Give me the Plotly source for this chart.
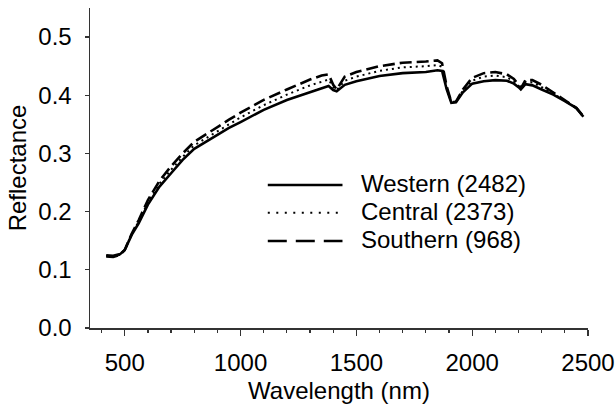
import plotly.graph_objects as go

wavelength = [420, 450, 480, 500, 530, 560, 600, 650, 700, 750, 800, 850, 900, 950, 1000,
              1100, 1200, 1300, 1350, 1380, 1400, 1415, 1450, 1500, 1600, 1700, 1800, 1850,
              1870, 1890, 1910, 1930, 1960, 2000, 2050, 2100, 2150, 2180, 2200, 2210, 2230,
              2260, 2300, 2350, 2400, 2450, 2480]

western = [0.125, 0.124, 0.127, 0.134, 0.160, 0.180, 0.212, 0.243, 0.266, 0.289, 0.308, 0.320,
           0.332, 0.344, 0.354, 0.375, 0.392, 0.406, 0.413, 0.416, 0.409, 0.407, 0.418, 0.424,
           0.433, 0.438, 0.440, 0.443, 0.442, 0.410, 0.387, 0.388, 0.405, 0.420, 0.424, 0.426,
           0.425, 0.420, 0.414, 0.410, 0.419, 0.417, 0.410, 0.401, 0.390, 0.378, 0.363]

central = [0.124, 0.123, 0.126, 0.134, 0.161, 0.183, 0.216, 0.248, 0.272, 0.294, 0.314, 0.326,
           0.338, 0.351, 0.362, 0.383, 0.401, 0.417, 0.424, 0.427, 0.414, 0.409, 0.425, 0.432,
           0.442, 0.448, 0.450, 0.452, 0.449, 0.412, 0.388, 0.389, 0.408, 0.425, 0.432, 0.434,
           0.431, 0.424, 0.416, 0.411, 0.423, 0.422, 0.414, 0.403, 0.391, 0.378, 0.363]

southern = [0.123, 0.122, 0.126, 0.134, 0.162, 0.185, 0.220, 0.253, 0.278, 0.300, 0.320, 0.333,
            0.345, 0.358, 0.370, 0.392, 0.410, 0.427, 0.434, 0.436, 0.418, 0.410, 0.432, 0.440,
            0.450, 0.456, 0.458, 0.460, 0.455, 0.415, 0.388, 0.389, 0.410, 0.430, 0.438, 0.440,
            0.436, 0.428, 0.418, 0.412, 0.426, 0.426, 0.418, 0.405, 0.392, 0.378, 0.364]

names = ["Western (2482)", "Central (2373)", "Southern (968)"]
x_ticks = [500, 1000, 1500, 2000, 2500]
y_ticks = [0, 0.1, 0.2, 0.3, 0.4, 0.5]
y_ticktext = ["0.0", "0.1", "0.2", "0.3", "0.4", "0.5"]

FONT = "Liberation Sans, Arial, sans-serif"
series = [western, central, southern]
styles = [dict(width=2.6, dash="solid"),
          dict(width=2.0, dash="2px,4px"),
          dict(width=2.6, dash="12px,5px")]
legend_dash = ["solid", "2px,6.5px", "19px,9px"]

fig = go.Figure()
for name, vals, st in zip(names, series, styles):
    fig.add_trace(go.Scatter(x=wavelength, y=vals, mode="lines", name=name,
                             line=dict(color="black", **st), showlegend=False))

# manual legend (line samples + labels) placed in paper coordinates
legend_rows_y = [0.447, 0.360, 0.272]
for name, ly, st, ld in zip(names, legend_rows_y, styles, legend_dash):
    fig.add_shape(type="line", xref="paper", yref="paper",
                  x0=0.357, x1=0.507, y0=ly, y1=ly,
                  line=dict(color="black", width=st["width"], dash=ld))
    fig.add_annotation(xref="paper", yref="paper", x=0.540, y=ly + 0.004,
                       text=name, showarrow=False, xanchor="left", yanchor="middle",
                       font=dict(family=FONT, size=24, color="black"))

fig.update_layout(
    width=615, height=412,
    margin=dict(l=90, r=27, t=8, b=84),
    paper_bgcolor="white", plot_bgcolor="white",
    font=dict(family=FONT, size=24, color="black"),
    showlegend=False,
    xaxis=dict(range=[350, 2500], tickvals=x_ticks,
               ticks="outside", ticklen=6, tickwidth=1.3, tickcolor="#333",
               showline=True, linecolor="#333", linewidth=1.5,
               showgrid=False, zeroline=False, automargin=False,
               ticklabelstandoff=7,
               minor=dict(dtick=100, tick0=0, ticks="outside", ticklen=3,
                          tickcolor="#333", tickwidth=1.2, showgrid=False),
               title=dict(text="Wavelength (nm)", font=dict(size=24), standoff=7)),
    yaxis=dict(range=[0, 0.55], tickvals=y_ticks, ticktext=y_ticktext,
               ticks="outside", ticklen=4, tickwidth=1.3, tickcolor="#333",
               showline=True, linecolor="#333", linewidth=1.5,
               showgrid=False, zeroline=False, automargin=False,
               ticklabelstandoff=8,
               title=dict(text="Reflectance", font=dict(size=24), standoff=5)),
)

fig.write_html("out.html",
               config={"displayModeBar": False, "staticPlot": True},
               post_script="document.body.style.margin='0';document.body.style.overflow='hidden';")
